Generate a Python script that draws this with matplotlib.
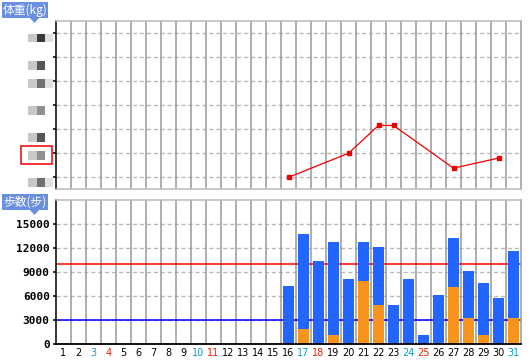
import matplotlib
matplotlib.use("Agg")
import matplotlib.pyplot as plt
from matplotlib.patches import Rectangle, Polygon

# ---------------- data ----------------
days = list(range(1, 32))
day_labels = [str(d) for d in days]
saturdays = [3, 10, 17, 24, 31]
sundays = [4, 11, 18, 25]

weight_days = [16, 20, 22, 23, 27, 30]
weight_vals = [60.0, 60.5, 61.08, 61.08, 60.19, 60.40]
weight_ticks = [60.0, 60.5, 61.0, 61.5, 62.0, 62.5, 63.0]

step_days = [16, 17, 18, 19, 20, 21, 22, 23, 24, 25, 26, 27, 28, 29, 30, 31]
steps_total = [7300, 13800, 10450, 12800, 8100, 12700, 12100, 4950, 8200, 1200,
               6200, 13200, 9200, 7700, 5800, 11700]
steps_part = [0, 1950, 0, 1100, 0, 7950, 4850, 0, 0, 0,
              0, 7200, 3300, 1100, 0, 3300]
step_ticks = [0, 3000, 6000, 9000, 12000, 15000]
goal_high = 10000
goal_low = 3000

W, H = 529, 361
fig = plt.figure(figsize=(W / 100, H / 100), dpi=100)


def fy(y):
    return 1 - y / H


def fx(x):
    return x / W


L, R = 56, 521
ax1 = fig.add_axes([fx(L), fy(189), fx(R) - fx(L), fy(21) - fy(189)])
ax2 = fig.add_axes([fx(L), fy(344.3), fx(R) - fx(L), fy(200) - fy(344.3)])

GRID_V = "#999999"
GRID_H = "#bbbbbb"

for ax in (ax1, ax2):
    ax.set_xlim(0.5, 31.5)
    for b in range(1, 31):
        ax.axvline(b + 0.5, color=GRID_V, lw=1.1, zorder=1)
    ax.spines["top"].set_color(GRID_H)
    ax.spines["right"].set_color(GRID_V)
    ax.spines["left"].set_color("black")
    ax.spines["left"].set_linewidth(1.1)
    ax.spines["right"].set_linewidth(1.1)
    ax.spines["top"].set_linewidth(1.1)
    ax.tick_params(axis="y", direction="out", length=2.5, width=1.1, color="black", pad=2)
    ax.set_facecolor("white")

# ---------- top: weight ----------
ax1.set_ylim(59.756, 63.256)
ax1.set_yticks(weight_ticks)
ax1.set_yticklabels([""] * len(weight_ticks))
for v in weight_ticks:
    ax1.axhline(v, color=GRID_H, lw=1.0, ls=(0, (3, 2)), zorder=0.5)
ax1.spines["bottom"].set_color(GRID_H)
ax1.spines["bottom"].set_linewidth(1.1)
ax1.set_xticks([])
ax1.plot(weight_days, weight_vals, color="#ee0000", lw=0.9, marker="s",
         markersize=2.6, zorder=3)

# ---------- bottom: steps ----------
ax2.set_ylim(0, 18000)
ax2.set_yticks(step_ticks)
ax2.set_yticklabels([str(t) for t in step_ticks], fontfamily="DejaVu Sans Mono",
                    fontweight="bold", fontsize=8)
for v in step_ticks[1:]:
    ax2.axhline(v, color=GRID_H, lw=1.0, ls=(0, (3, 2)), zorder=0.5)
ax2.axhline(goal_high, color="#ff0000", lw=1.1, zorder=1.5)
ax2.axhline(goal_low, color="#0000ff", lw=1.1, zorder=1.5)
ax2.bar(step_days, steps_total, width=0.667, color="#2266ff", zorder=2)
ax2.bar(step_days, steps_part, width=0.667, color="#f7941d", zorder=2.5)
ax2.spines["bottom"].set_color("black")
ax2.spines["bottom"].set_linewidth(1.3)
ax2.set_xticks(days)
ax2.set_xticklabels(day_labels, fontsize=7)
ax2.tick_params(axis="x", length=0, pad=3)
for lab, d in zip(ax2.get_xticklabels(), days):
    if d in saturdays:
        lab.set_color("#1199cc")
    elif d in sundays:
        lab.set_color("#ee2200")

# ---------- title boxes ----------
BOX = "#6a8fe0"


def title_box(y0, y1, x0, x1, text):
    fig.patches.append(Rectangle((fx(x0), fy(y1)), fx(x1) - fx(x0), fy(y0) - fy(y1),
                                 transform=fig.transFigure, facecolor=BOX,
                                 edgecolor="none", zorder=5))
    fig.patches.append(Polygon([(fx(30), fy(y1)), (fx(39), fy(y1)), (fx(34.5), fy(y1 + 5))],
                               closed=True, transform=fig.transFigure,
                               facecolor=BOX, edgecolor="none", zorder=5))
    fig.text(fx((x0 + x1) / 2), fy((y0 + y1) / 2 + 0.5), text, color="white",
             fontsize=8.5, ha="center", va="center",
             family=["Noto Sans CJK JP", "DejaVu Sans"], zorder=6)


title_box(2, 18, 2, 48, "体重(kg)")
title_box(194, 210, 2, 48, "歩数(步)")

# ---------- hidden weight labels (grey image blocks) ----------
blocks = [
    (33.5, ["#c8c8c8", "#3a3a3a", "#e0e0e0"]),
    (61, ["#c8c8c8", "#555555"]),
    (79, ["#c8c8c8", "#707070", "#e0e0e0"]),
    (106, ["#c8c8c8", "#909090"]),
    (133, ["#c8c8c8", "#555555"]),
    (151, ["#c8c8c8", "#909090"]),
    (178, ["#c8c8c8", "#707070", "#e0e0e0"]),
]
for y0, cols in blocks:
    xs = [28, 36.7, 45.3]
    for x0, c in zip(xs, cols):
        wdt = 8.7 if x0 < 45 else 7.4
        fig.patches.append(Rectangle((fx(x0), fy(y0 + 8.7)), fx(wdt), 8.7 / H,
                                     transform=fig.transFigure, facecolor=c,
                                     edgecolor="none", zorder=4))

fig.patches.append(Rectangle((fx(20.5), fy(164.3)), fx(31), 18.3 / H,
                             transform=fig.transFigure, facecolor="none",
                             edgecolor="#ee0000", lw=1.1, zorder=4))

fig.savefig("out.png", dpi=100)
